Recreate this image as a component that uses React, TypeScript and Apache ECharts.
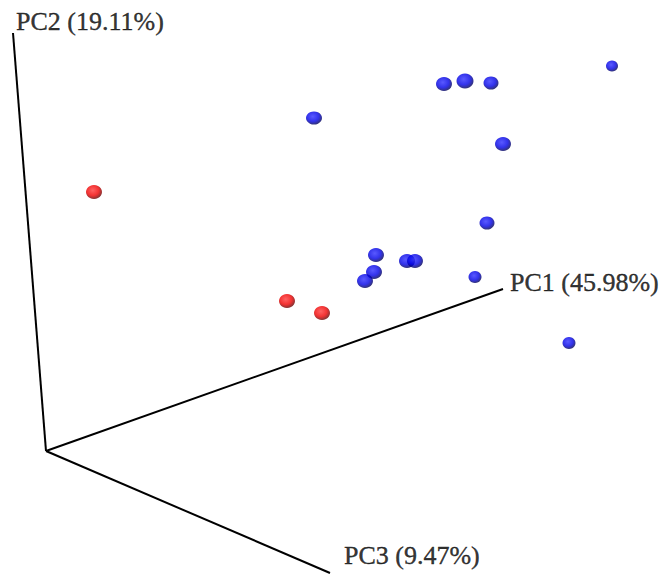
import React, { useEffect, useRef } from "react";
import * as echarts from "echarts";

// Projected positions (screen-space units of the 3D view) of the samples
const groupRedX = [94, 287, 322];
const groupRedY = [192, 301, 313];
const groupRedSize = [[16, 14], [16, 14], [16, 14]];

const groupBlueX = [314, 444, 465, 491, 612, 503, 487, 376, 374, 365, 407, 415, 475, 569];
const groupBlueY = [118, 84, 81, 83, 66, 144, 223, 255, 272, 281, 261, 261, 277, 343];
const groupBlueSize = [
  [16, 13], [16, 14], [17, 15], [15, 13], [12, 11], [16, 14], [15, 13],
  [16, 14], [16, 14], [16, 14], [16, 14], [16, 14], [13, 12], [13, 12],
];

// 3D axes (origin and axis ends, projected)
const axisOrigin = [46, 451];
const axisEndsX = [503, 13, 330];
const axisEndsY = [289, 33, 573];
const axisNames = ["PC1 (45.98%)", "PC2 (19.11%)", "PC3 (9.47%)"];
const axisLabelX = [510, 16, 344];
const axisLabelY = [282, 21, 555];

const W = 669;
const H = 588;

function sphere(center: string, mid: string, edge: string) {
  return new echarts.graphic.RadialGradient(0.42, 0.38, 0.62, [
    { offset: 0, color: center },
    { offset: 0.6, color: mid },
    { offset: 1, color: edge },
  ]);
}

export default function App() {
  const ref = useRef<HTMLDivElement>(null);
  useEffect(() => {
    if (!ref.current) return;
    const chart = echarts.init(ref.current, undefined, { renderer: "svg" });
    const axisSeries = axisEndsX.map((ex, i) => ({
      type: "line",
      data: [axisOrigin, [ex, axisEndsY[i]]],
      symbol: "none",
      lineStyle: { color: "#000", width: 2 },
      silent: true,
      z: 1,
    }));
    const blueColor = sphere("#3030ff", "#0000e6", "#00005a");
    const redColor = sphere("#ff3a3a", "#f00000", "#6a0000");
    chart.setOption({
      animation: false,
      backgroundColor: "#fff",
      grid: { left: 0, top: 0, right: 0, bottom: 0 },
      xAxis: { type: "value", min: 0, max: W, show: false },
      yAxis: { type: "value", min: 0, max: H, inverse: true, show: false },
      series: [
        ...axisSeries,
        {
          type: "scatter",
          symbolSize: 0,
          silent: true,
          data: axisNames.map((n, i) => ({ value: [axisLabelX[i], axisLabelY[i]], name: n })),
          label: {
            show: true,
            position: "inside",
            align: "left",
            verticalAlign: "middle",
            formatter: (p: any) => p.name,
            fontFamily: "'Liberation Serif', 'Times New Roman', serif",
            fontSize: 26,
            color: "#000",
            textBorderColor: "#000",
            textBorderWidth: 0.4,
          },
        },
        {
          type: "scatter",
          data: groupRedX.map((x, i) => ({ value: [x, groupRedY[i]], symbolSize: groupRedSize[i] })),
          itemStyle: { color: redColor },
          z: 3,
        },
        {
          type: "scatter",
          data: groupBlueX.map((x, i) => ({ value: [x, groupBlueY[i]], symbolSize: groupBlueSize[i] })),
          itemStyle: { color: blueColor },
          z: 3,
        },
      ],
    });
    return () => chart.dispose();
  }, []);
  return (
    <div
      ref={ref}
      style={{ position: "fixed", left: 0, top: 0, width: W, height: H, background: "#fff" }}
    />
  );
}
